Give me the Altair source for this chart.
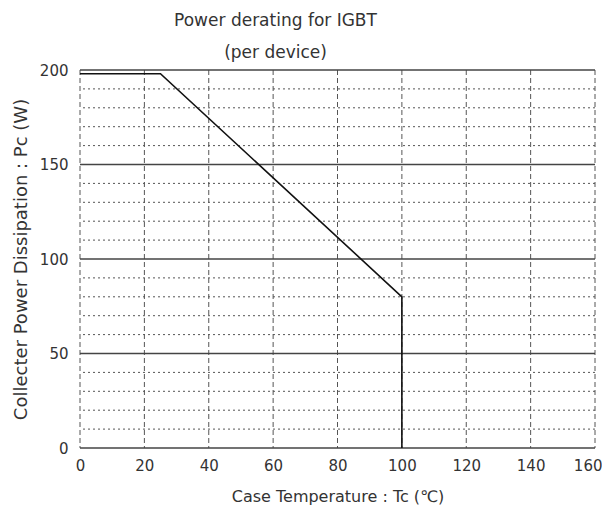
import altair as alt
import pandas as pd

# Curve data
curve_x = [0, 25, 100, 100]
curve_y = [198, 198, 80, 0]

# Grid values
major_y = [0, 50, 100, 150, 200]
minor_y = [10, 20, 30, 40, 60, 70, 80, 90, 110, 120, 130, 140, 160, 170, 180, 190]
vert_x = [0, 20, 40, 60, 80, 100, 120, 140, 160]

x_ticks = [0, 20, 40, 60, 80, 100, 120, 140, 160]
y_ticks = [0, 50, 100, 150, 200]

curve = pd.DataFrame({"x": curve_x, "y": curve_y, "order": list(range(len(curve_x)))})
major = pd.DataFrame({"y": major_y})
minor = pd.DataFrame({"y": minor_y})
vert = pd.DataFrame({"x": vert_x})

xs = alt.Scale(domain=[0, 160], nice=False)
ys = alt.Scale(domain=[0, 200], nice=False)

font = "DejaVu Sans"
ink = "#333333"

xaxis = alt.Axis(values=x_ticks, grid=False, domain=False, ticks=False, labelFlush=False,
                 labelAlign=alt.ExprRef(expr="datum.value == 160 ? 'right' : 'center'"),
                 labelOffset=alt.ExprRef(expr="datum.value == 160 ? 7 : 0"),
                 labelFontSize=15, labelColor=ink, labelFont=font, labelPadding=10,
                 title="Case Temperature : Tc (\u2103)", titleFont=font, titleFontSize=16,
                 titleFontWeight="normal", titleColor=ink, titlePadding=15)
yaxis = alt.Axis(values=y_ticks, grid=False, domain=False, ticks=False, labelFlush=False,
                 labelFontSize=15, labelColor=ink, labelFont=font, labelPadding=12,
                 title="Collecter Power Dissipation : Pc (W)", titleFont=font, titleFontSize=18,
                 titleFontWeight="normal", titleColor=ink, titlePadding=9)

vlines = alt.Chart(vert).mark_rule(color="#555555", strokeWidth=1, strokeDash=[5, 3]).encode(
    x=alt.X("x:Q", scale=xs, axis=xaxis)
)
minor_lines = alt.Chart(minor).mark_rule(color="#555555", strokeWidth=1, strokeDash=[2, 3]).encode(
    y=alt.Y("y:Q", scale=ys, axis=yaxis)
)
major_lines = alt.Chart(major).mark_rule(color="#444444", strokeWidth=1.6).encode(
    y=alt.Y("y:Q", scale=ys)
)
line = alt.Chart(curve).mark_line(color="#111111", strokeWidth=1.6).encode(
    x=alt.X("x:Q", scale=xs),
    y=alt.Y("y:Q", scale=ys),
    order="order:Q",
)

chart = alt.layer(vlines, minor_lines, major_lines, line).properties(
    width=515,
    height=378,
    autosize=alt.AutoSizeParams(type="none"),
    padding={"left": 72, "top": 62, "right": 7, "bottom": 57},
    title=alt.TitleParams(
        ["Power derating for IGBT", "(per device)"],
        font=font, fontSize=17, fontWeight="normal", color=ink,
        anchor="middle", dx=-62, lineHeight=32, offset=1,
    ),
).configure_view(stroke=None)

chart.save("out.html", embed_options={"renderer": "svg", "actions": False})
